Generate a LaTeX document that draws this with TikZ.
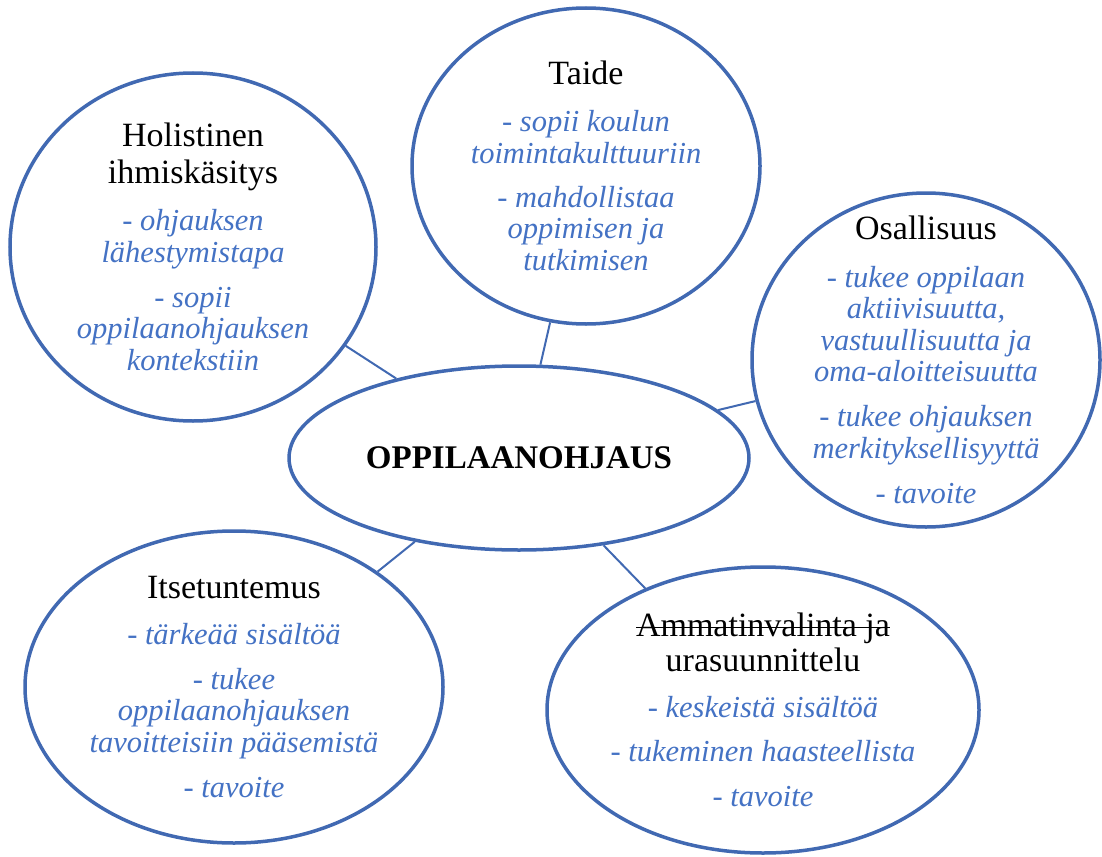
\documentclass[tikz,border=0pt]{standalone}
\usepackage{fontspec}
\setmainfont{Liberation Serif}
\usetikzlibrary{shapes.geometric}
\definecolor{rimblue}{RGB}{65,105,178}
\definecolor{noteblue}{RGB}{68,114,196}
% heading lines inside a bubble: upright, black, slightly larger
\newcommand\hd[1]{{\fontsize{34}{31.5}\selectfont\upshape\color{black}#1}}
% struck-through text
\newcommand\crossout[1]{\leavevmode\setbox0\hbox{#1}\rlap{\rule[0.24em]{\wd0}{1.4pt}}\box0}
\begin{document}
\begin{tikzpicture}[x=1pt,y=-1pt,
  bubble/.style={draw=rimblue, line width=3.5pt, ellipse, inner sep=0pt, fill=white},
  txt/.style={align=center, font=\fontsize{30.5}{31.5}\selectfont\itshape, text=noteblue, inner sep=0pt},
  link/.style={draw=rimblue, line width=2pt}]
\useasboundingbox (0,0) rectangle (1102,856);

% bubbles
\node[bubble, minimum width=366pt, minimum height=348pt] (hol) at (193,247) {};
\node[bubble, minimum width=348pt, minimum height=316pt] (taide) at (586,166) {};
\node[bubble, minimum width=348pt, minimum height=334pt] (osal) at (926,360) {};
\node[bubble, minimum width=418pt, minimum height=312pt] (itse) at (234,687) {};
\node[bubble, minimum width=432pt, minimum height=286pt] (amm) at (763,710) {};
\node[bubble, minimum width=460pt, minimum height=184pt,
      font=\fontsize{33}{33}\selectfont\bfseries] (core) at (519,458) {OPPILAANOHJAUS};

% spokes
\draw[link] (hol) -- (core);
\draw[link] (taide) -- (core);
\draw[link] (osal) -- (core);
\draw[link] (itse) -- (core);
\draw[link] (amm) -- (core);

% bubble contents
\node[txt] (holtxt) at (hol.center) {\hd{Holistinen}\\[5pt]\hd{ihmiskäsitys}\\[16pt]- ohjauksen\\lähestymistapa\\[13.5pt]- sopii\\oppilaanohjauksen\\kontekstiin};
\node[txt] (taidetxt) at (taide.center) {\hd{Taide}\\[15.5pt]- sopii koulun\\toimintakulttuuriin\\[12.5pt]- mahdollistaa\\oppimisen ja\\tutkimisen};
\node[txt] (osaltxt) at (osal.center) {\hd{Osallisuus}\\[16pt]- tukee oppilaan\\aktiivisuutta,\\vastuullisuutta ja\\oma-aloitteisuutta\\[13.5pt]- tukee ohjauksen\\merkityksellisyyttä\\[13.5pt]- tavoite};
\node[txt] (itsetxt) at (itse.center) {\hd{Itsetuntemus}\\[14.5pt]- tärkeää sisältöä\\[13.5pt]- tukee\\oppilaanohjauksen\\tavoitteisiin pääsemistä\\[13.5pt]- tavoite};
\node[txt] (ammtxt) at (amm.center) {\hd{\crossout{Ammatinvalinta ja}}\\[3.5pt]\hd{urasuunnittelu}\\[14.5pt]- keskeistä sisältöä\\[12.5pt]- tukeminen haasteellista\\[13.5pt]- tavoite};
\end{tikzpicture}
\end{document}
